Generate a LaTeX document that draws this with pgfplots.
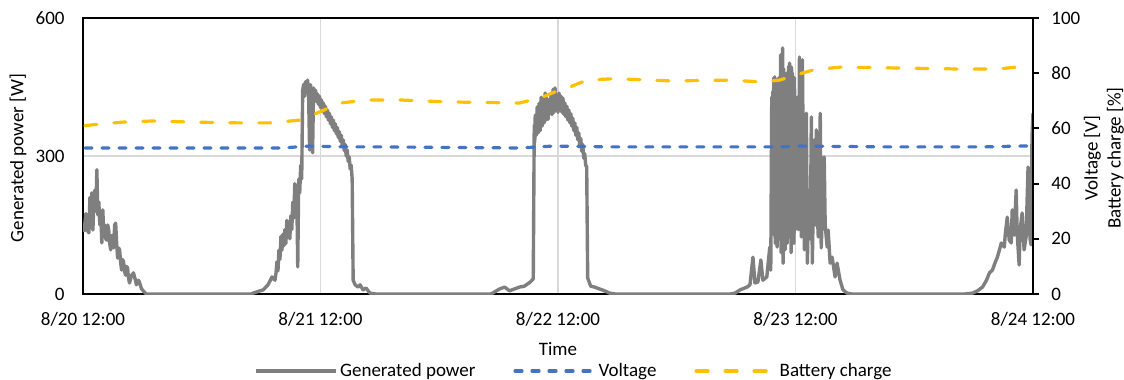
\documentclass[border=0pt]{standalone}
\usepackage{pgfplots}
\pgfplotsset{compat=1.18}
\usepackage{fontspec}
\setmainfont{Carlito}
\definecolor{pgray}{HTML}{7F7F7F}
\definecolor{vblue}{HTML}{4472C4}
\definecolor{byellow}{HTML}{FFC000}
\definecolor{gridgray}{HTML}{D9D9D9}

\pgfplotstableread{
h W
0.1 135
0.3 175
0.4 140
0.6 133
0.7 210
0.8 190
0.9 220
1.0 139
1.1 200
1.2 226
1.3 180
1.4 270
1.5 172
1.6 200
1.7 150
1.8 175
1.9 111
2.0 183
2.1 130
2.2 150
2.3 120
2.4 117
2.5 150
2.6 139
2.7 110
2.8 96
2.9 125
3.0 128
3.1 100
3.2 150
3.3 154
3.4 110
3.5 78
3.6 100
3.7 96
3.8 70
3.9 52
4.0 75
4.1 70
4.2 50
4.3 41
4.4 60
4.5 57
4.6 35
4.7 24
4.9 40
5.1 46
5.3 30
5.4 20
5.6 30
5.7 26
5.9 12
6.0 9
6.2 4
6.4 0
17.0 0
17.2 2
18.2 9
18.7 20
19.1 37
19.4 30
19.5 45
19.6 70
19.7 50
19.8 95
19.9 75
20.0 125
20.1 95
20.2 130
20.3 105
20.4 140
20.5 110
20.6 160
20.7 125
20.8 150
20.9 120
21.0 170
21.1 140
21.2 200
21.3 165
21.4 240
21.5 190
21.6 225
21.7 59
21.8 250
21.9 220
22.0 280
22.1 250
22.2 443
22.3 456
22.4 430
22.5 462
22.6 440
22.7 465
22.8 430
22.9 313
23.0 455
23.1 430
23.2 307
23.3 448
23.4 420
23.5 443
23.6 418
23.7 435
23.8 412
23.9 430
24.0 405
24.1 422
24.2 398
24.3 415
24.4 392
24.5 408
24.6 385
24.7 400
24.8 378
24.9 393
25.0 370
25.1 385
25.2 362
25.3 378
25.4 355
25.5 370
25.6 348
25.7 362
25.8 340
25.9 353
26.0 332
26.1 345
26.2 322
26.3 335
26.4 312
26.5 325
26.6 300
26.7 313
26.8 288
26.9 298
27.0 272
27.1 280
27.2 250
27.3 30
27.5 20
27.8 15
28.0 20
28.3 9
28.6 13
29.0 2
29.6 0
41.2 0
41.4 2
42.1 11
42.6 15
43.1 7
43.6 11
44.1 15
44.6 17
45.2 26
45.5 33
45.6 367
45.65 330
45.7 389
45.8 345
45.9 407
46.0 350
46.1 415
46.2 355
46.3 428
46.4 365
46.5 422
46.6 372
46.7 437
46.8 378
46.9 425
47.0 380
47.1 420
47.2 395
47.3 433
47.4 390
47.5 445
47.6 395
47.7 448
47.8 400
47.9 425
48.0 395
48.1 437
48.2 400
48.3 430
48.4 395
48.5 426
48.6 390
48.7 415
48.8 385
48.9 408
49.0 378
49.1 400
49.2 372
49.3 392
49.4 365
49.5 382
49.6 355
49.7 372
49.8 345
49.9 362
50.0 335
50.1 350
50.2 322
50.3 338
50.4 310
50.5 325
50.6 295
50.7 305
50.8 280
50.9 276
51.0 35
51.3 17
51.7 15
52.2 11
52.7 7
53.2 2
53.8 0
65.4 0
65.9 2
66.4 9
67.1 15
67.4 20
67.7 80
67.9 24
68.2 26
68.5 74
68.7 30
69.1 37
69.4 102
69.5 52
69.6 428
69.65 180
69.7 440
69.75 130
69.8 470
69.85 200
69.9 472
69.95 110
70.0 455
70.05 160
70.1 465
70.15 102
70.2 440
70.25 210
70.3 470
70.35 120
70.4 472
70.45 204
70.5 520
70.55 90
70.6 500
70.65 180
70.7 535
70.75 67
70.8 490
70.85 140
70.9 480
70.95 96
71.0 470
71.05 200
71.1 480
71.15 110
71.2 460
71.25 180
71.3 495
71.35 124
71.4 502
71.45 150
71.5 470
71.55 90
71.6 493
71.65 139
71.7 480
71.75 200
71.8 460
71.85 110
71.9 470
71.95 139
72.1 335
72.2 428
72.3 140
72.4 515
72.5 200
72.6 124
72.7 509
72.8 250
72.9 96
73.0 300
73.1 393
73.2 67
73.3 180
73.4 226
73.5 120
73.6 385
73.7 67
73.8 200
73.9 335
74.0 150
74.1 357
74.2 180
74.3 124
74.4 250
74.5 393
74.6 100
74.7 167
74.8 230
74.9 298
75.0 150
75.2 102
75.3 139
75.5 67
75.7 80
76.0 37
76.2 67
76.5 30
76.8 9
77.2 2
77.7 0
89.1 0
89.9 2
90.4 7
90.9 15
91.3 30
91.6 46
91.9 52
92.2 70
92.4 80
92.6 95
92.8 111
93.1 102
93.2 130
93.4 167
93.6 117
93.8 111
93.9 183
94.1 128
94.3 226
94.4 133
94.6 63
94.7 139
94.9 176
95.1 96
95.3 124
95.5 276
95.7 120
95.8 107
95.9 341
96.0 393
}\powertable

\pgfplotstableread{
h V
0.2 52.9
10.8 52.9
20.1 52.9
22.8 53.6
26.9 53.3
30.2 53.3
44.1 52.9
47.5 53.6
53.6 53.3
60.3 53.3
70.4 53.3
72.4 53.6
81.0 53.3
91.1 53.3
94.6 53.6
96.0 53.6
}\volttable

\pgfplotstableread{
h B
0.2 61.0
1.5 61.5
4.1 62.3
7.1 62.7
10.8 62.3
15.6 62.0
18.9 62.0
21.9 63.0
23.6 65.5
26.0 69.2
28.7 70.3
32.0 70.3
36.8 69.6
44.1 69.2
46.2 71.0
48.2 74.0
49.2 75.0
50.9 77.5
53.6 78.0
59.6 77.2
65.4 77.5
68.7 76.8
70.4 77.5
71.7 79.0
73.8 81.2
76.5 82.2
82.2 81.9
88.9 81.5
92.4 81.5
95.4 82.6
}\batttable

\newcommand\axfont{\fontsize{9.5bp}{11.5bp}\selectfont}
\pgfplotsset{
  every axis/.append style={font=\axfont,
    /pgf/number format/assume math mode=true},
}

\begin{document}
\begin{tikzpicture}
\path[use as bounding box] (-41.5bp,-43bp) rectangle (520.5bp,147bp);
\begin{axis}[
  at={(0,0)}, anchor=south west,
  scale only axis, width=475bp, height=138bp,
  xmin=0, xmax=96, ymin=0, ymax=600,
  xtick={0,24,48,72,96},
  xticklabels={},
  ytick={0,300,600},
  major tick length=0pt,
  axis line style={black, line width=1bp},
  xmajorgrids, ymajorgrids,
  grid style={gridgray, line width=0.75bp},
  yticklabel style={anchor=east, inner sep=0pt, xshift=-9bp},
  xlabel={Time},
  xlabel style={at={(axis description cs:0.5,0)}, anchor=base, yshift=-30.5bp},
  ylabel={Generated power [W]},
  ylabel style={at={(axis description cs:-0.0684,0.493)}, anchor=center},
  after end axis/.code={
    \node[font=\axfont, anchor=base, inner sep=0pt, yshift=-15.5bp] at (axis cs:0,0) {8/20 12:00};
    \node[font=\axfont, anchor=base, inner sep=0pt, yshift=-15.5bp] at (axis cs:24,0) {8/21 12:00};
    \node[font=\axfont, anchor=base, inner sep=0pt, yshift=-15.5bp] at (axis cs:48,0) {8/22 12:00};
    \node[font=\axfont, anchor=base, inner sep=0pt, yshift=-15.5bp] at (axis cs:72,0) {8/23 12:00};
    \node[font=\axfont, anchor=base, inner sep=0pt, yshift=-15.5bp] at (axis cs:96,0) {8/24 12:00};
  },
]
\addplot[pgray, line width=1.7bp, line join=round] table[x=h, y=W] {\powertable};
\end{axis}
\begin{axis}[
  at={(0,0)}, anchor=south west,
  scale only axis, width=475bp, height=138bp,
  xmin=0, xmax=96, ymin=0, ymax=100,
  axis y line*=right, axis x line=none,
  ytick={0,20,40,60,80,100},
  tick align=outside, major tick length=3bp,
  ytick style={black, line width=1bp},
  axis line style={black, line width=1bp},
  yticklabel style={anchor=west, inner sep=0pt, xshift=6bp},
  ylabel={Voltage [V]\\Battery charge [\%]},
  ylabel style={align=center, inner sep=0pt, at={(axis description cs:1.0745,0.493)}, anchor=center, rotate=0},
  legend columns=3,
  legend image code/.code={\draw[#1] (0bp,0bp) -- (40bp,0bp);},
  legend style={at={(0.517,-0.279)}, anchor=center, draw=none, fill=none,
    /tikz/every odd column/.append style={column sep=0bp},
    /tikz/every even column/.append style={column sep=18bp},
    nodes={inner sep=1bp}},
]
\addlegendimage{pgray, line width=1.7bp}
\addlegendentry{Generated power}
\addplot[vblue, line width=1.6bp, line cap=round, dash pattern=on 3.5bp off 5bp] table[x=h, y=V] {\volttable};
\addlegendentry{Voltage}
\addplot[byellow, line width=1.6bp, line cap=round, dash pattern=on 6bp off 8.5bp] table[x=h, y=B] {\batttable};
\addlegendentry{Battery charge}
\end{axis}
\end{tikzpicture}
\end{document}
